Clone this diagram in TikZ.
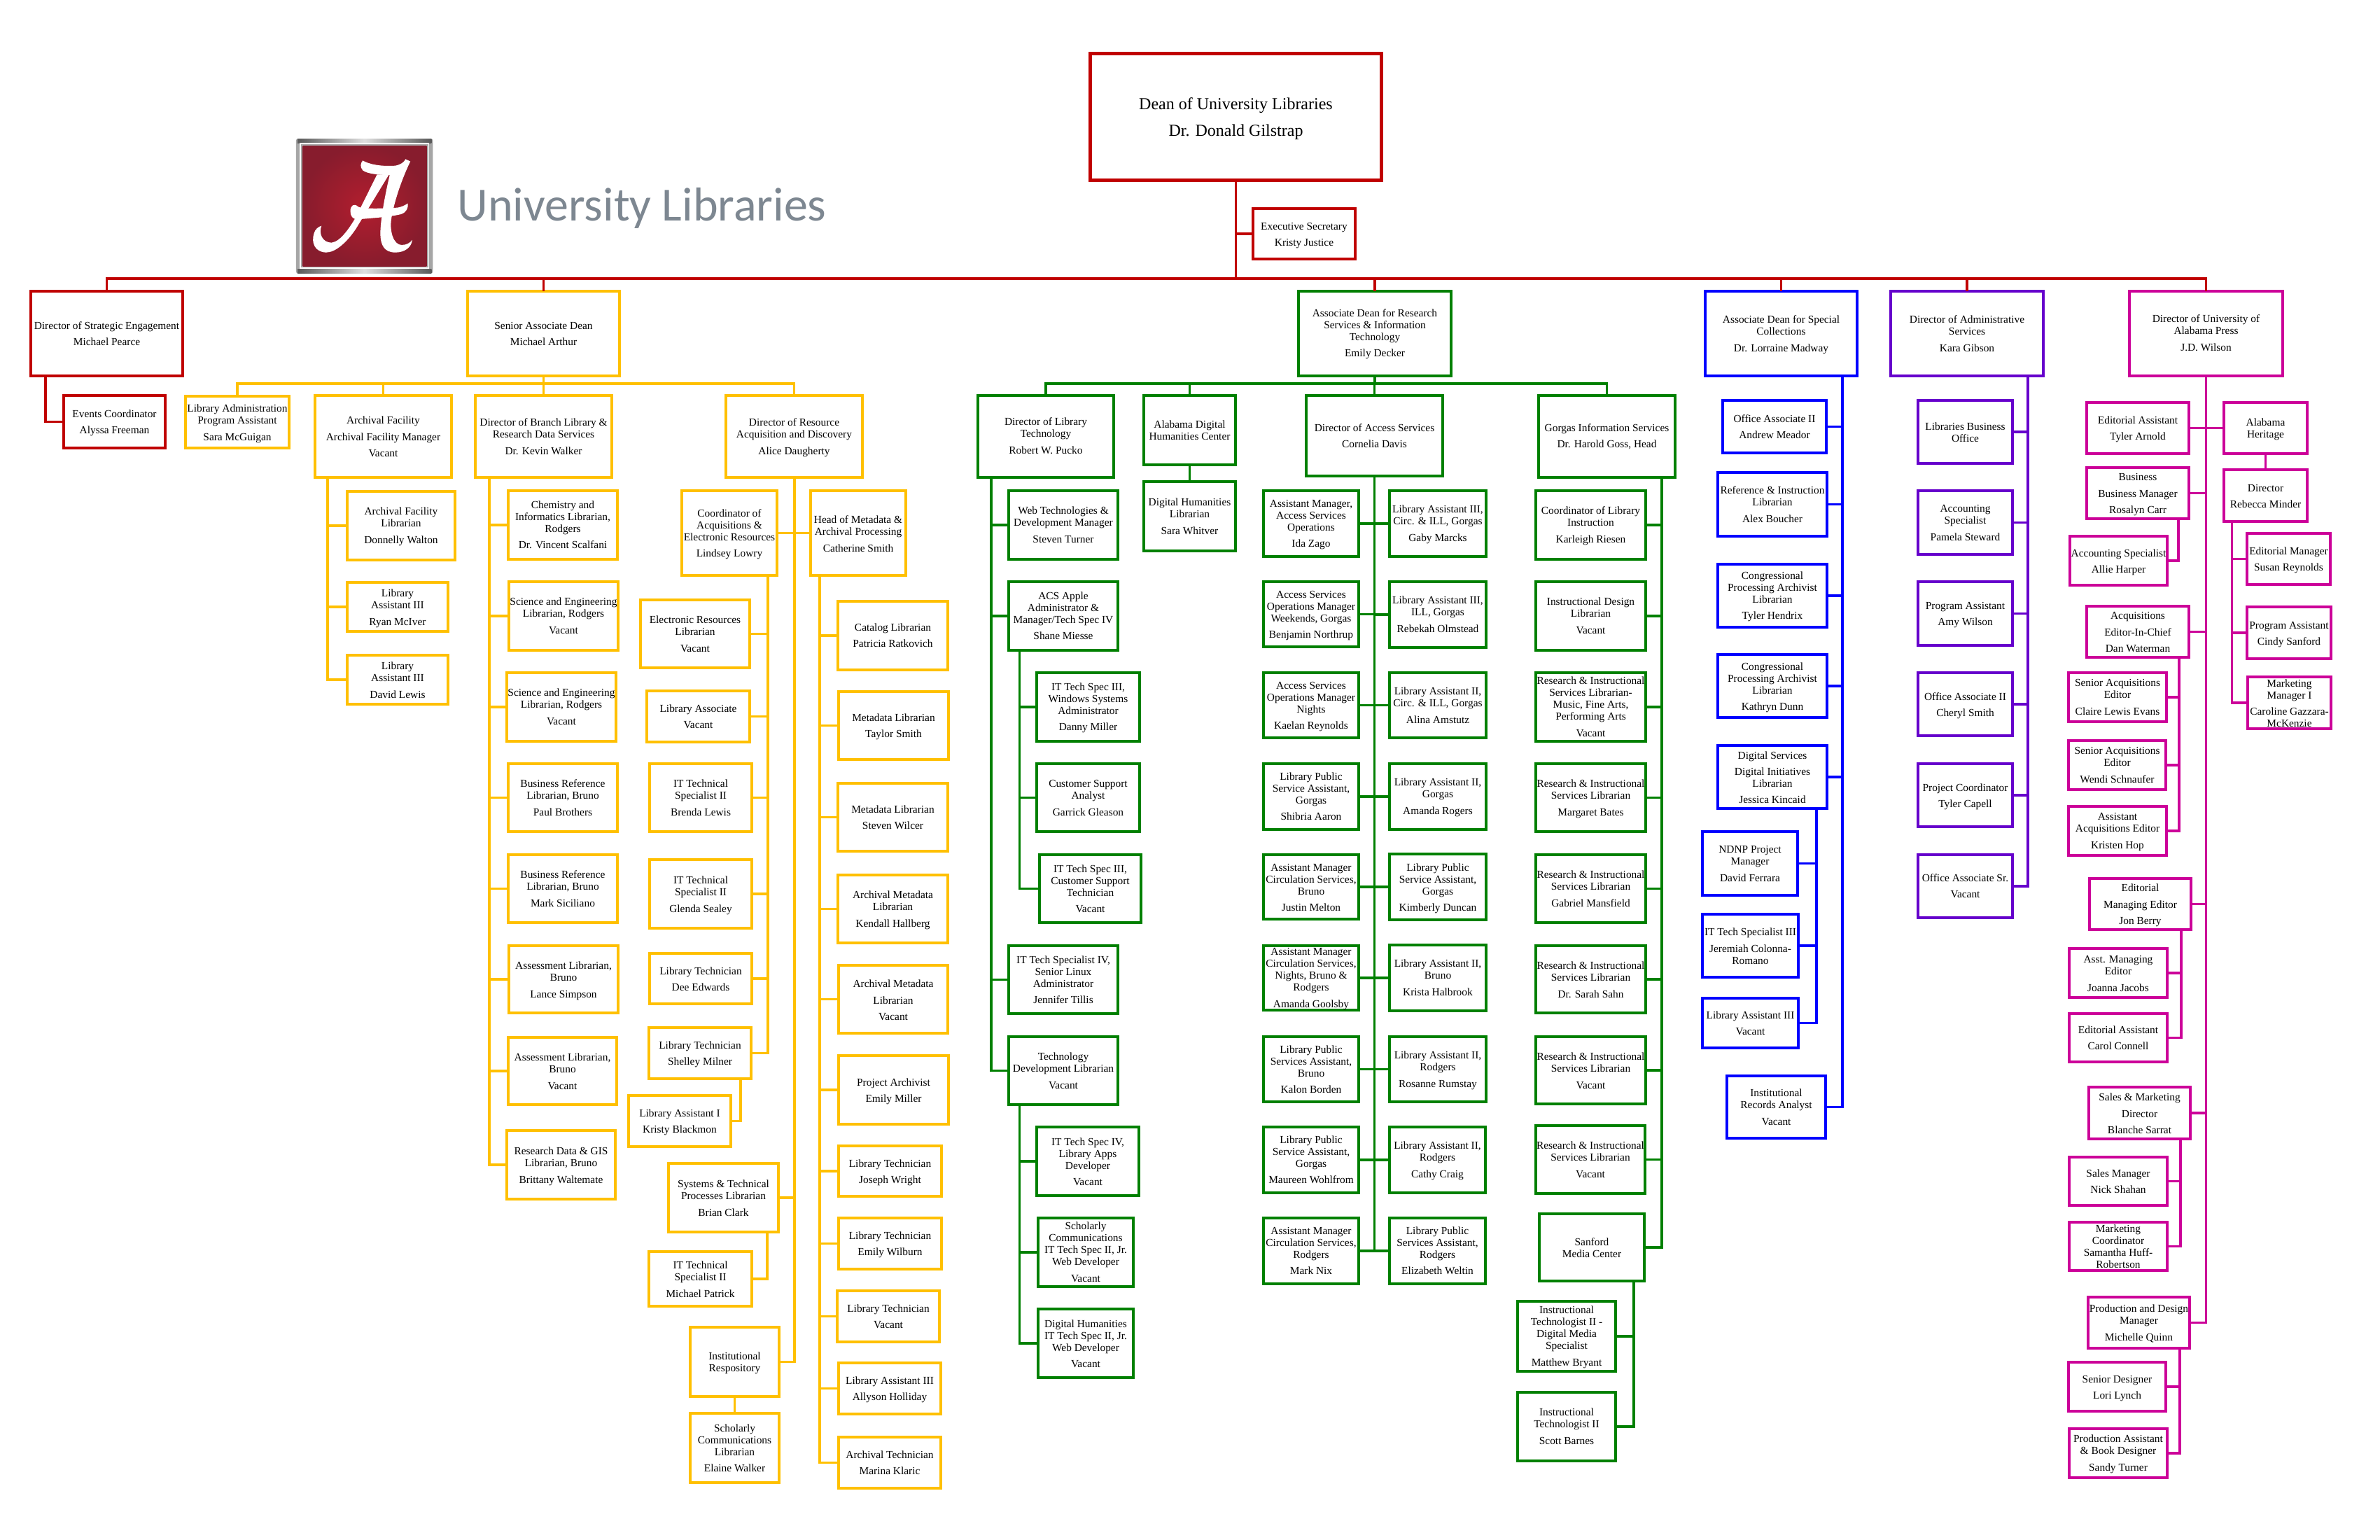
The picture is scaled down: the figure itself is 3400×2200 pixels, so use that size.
\documentclass[tikz,border=0pt]{standalone}
\usepackage{fontspec}
\setmainfont{Liberation Serif}
\newfontfamily\logofont{Carlito}
\usetikzlibrary{calc}
\definecolor{cred}{HTML}{C00000}
\definecolor{cgold}{HTML}{FFC000}
\definecolor{cgreen}{HTML}{008000}
\definecolor{cblue}{HTML}{0000FF}
\definecolor{cpurple}{HTML}{6600CC}
\definecolor{cmag}{HTML}{CC0099}
\tikzset{
  orgbox/.style={draw,rectangle,inner sep=0pt,outer sep=0pt,line width=1.8pt},
  link/.style={line width=1.8pt,line join=miter}
}
\newcommand{\G}{\\[3.2pt]}
% colour, name, outer x1 y1 x2 y2, centre of text y, text
\newcommand{\bx}[8]{%
  \pgfmathsetmacro\bw{(#5-#3-3.6)*0.5}%
  \pgfmathsetmacro\bh{(#6-#4-3.6)*0.5}%
  \pgfmathsetmacro\bcx{(#3+#5)/2}%
  \pgfmathsetmacro\bcy{(#4+#6)/2}%
  \pgfmathsetmacro\bdy{(\bcy-#7)*0.5-3.3}%
  \node[orgbox,#1,minimum width=\bw pt,minimum height=\bh pt,text=black] (#2) at (\bcx,\bcy)
    {\makebox[0pt]{\raisebox{\bdy pt}[0pt][0pt]{\fontsize{7.7}{8.5}\selectfont\begin{tabular}[c]{@{}c@{}}#8\end{tabular}}}};%
}
% colour, parent, y of bus, children
\newcommand{\bus}[4]{%
  \coordinate (tmpbus) at (0,#3);
  \foreach \kid in {#4} {\draw[link,#1] (#2.south) -- (#2.south |- tmpbus) -| (\kid.north);}
}
% colour, parent, x of spine, child anchors
\newcommand{\tree}[4]{%
  \coordinate (tmpsp) at (#3,0);
  \foreach \kid in {#4} {\draw[link,#1] (#2.south -| tmpsp) |- (\kid);}
}
\begin{document}
\begin{tikzpicture}[x=.5pt,y=-.5pt]
\useasboundingbox (0,0) rectangle (3400,2200);
\fill[white] (0,0) rectangle (3400,2200);

% ---------- logo
\begin{scope}[shift={(380,170)},x=.26785pt,y=-.16667pt]
  \fill[rounded corners=1.5pt,gray!70] (80,84) rectangle (445,662);
  \shade[left color=gray!70!black,right color=gray!70!black,middle color=gray!25] (84,84) rectangle (441,102);
  \shade[left color=gray!70!black,right color=gray!70!black,middle color=gray!25] (84,644) rectangle (441,662);
  \draw[white,line width=.9pt] (91,106) rectangle (434,640);
  \definecolor{logoin}{RGB}{178,30,46}
  \definecolor{logoout}{RGB}{135,28,45}
  \shade[inner color=logoin,outer color=logoout] (98,114) rectangle (428,632);
  \fill[white] (258,178) .. controls (270,190) and (300,205) .. (345,200)
     .. controls (360,195) and (368,185) .. (372,172) -- (385,182)
     .. controls (370,230) and (345,330) .. (335,420)
     .. controls (328,480) and (340,540) .. (362,540)
     .. controls (375,540) and (385,530) .. (390,518)
     .. controls (388,550) and (370,572) .. (345,572)
     .. controls (315,572) and (305,540) .. (305,490)
     .. controls (305,440) and (315,340) .. (330,240)
     .. controls (300,240) and (270,235) .. (258,220)
     .. controls (250,205) and (252,190) .. (258,178) -- cycle;
  \fill[white] (328,238) -- (240,470)
     .. controls (215,530) and (185,572) .. (160,572)
     .. controls (130,570) and (120,530) .. (128,490)
     .. controls (130,475) and (140,460) .. (148,458)
     .. controls (140,490) and (150,530) .. (175,530)
     .. controls (200,525) and (225,460) .. (240,420)
     -- (296,238) -- cycle;
  \fill[white] (225,395) .. controls (225,370) and (235,360) .. (245,375)
     .. controls (250,385) and (300,385) .. (350,380)
     .. controls (360,378) and (370,370) .. (378,362)
     .. controls (380,380) and (375,400) .. (360,408)
     .. controls (330,420) and (280,425) .. (245,430)
     .. controls (230,430) and (225,415) .. (225,395) -- cycle;
\end{scope}
\definecolor{logotxt}{RGB}{125,135,145}
\node[anchor=base west,inner sep=0pt,text=logotxt] (logotext) at (653,315) {\logofont\fontsize{34}{34}\selectfont University Libraries};

% ---------- top
\node[orgbox,cred,line width=2.5pt,minimum width=208pt,minimum height=90.5pt,text=black] (dean) at (1765.5,167) {\makebox[0pt]{\raisebox{-3.6pt}[0pt][0pt]{\fontsize{12}{19}\selectfont\begin{tabular}[c]{@{}c@{}}Dean of University Libraries\\Dr. Donald Gilstrap\end{tabular}}}};
\bx{cred}{execsec}{1788}{296}{1938}{372}{334}{Executive Secretary\G Kristy Justice}
\bx{cred}{strategic}{42}{414}{263}{539}{476}{Director of Strategic Engagement\G Michael Pearce}
\bx{cred}{events}{89}{563}{238}{642}{602}{Events Coordinator\G Alyssa Freeman}
\bx{cgold}{senior}{666}{414}{887}{539}{476}{Senior Associate Dean\G Michael Arthur}
\bx{cgreen}{assocdean}{1853}{414}{2075}{539}{475}{Associate Dean for Research\\Services \& Information\\Technology\G Emily Decker}
\bx{cblue}{special}{2434}{414}{2655}{539}{476}{Associate Dean for Special\\Collections\G Dr. Lorraine Madway}
\bx{cpurple}{admin}{2699}{414}{2921}{539}{476}{Director of Administrative\\Services\G Kara Gibson}
\bx{cmag}{press}{3040}{414}{3263}{539}{475}{Director of University of\\Alabama Press\G J.D. Wilson}

\bus{cred}{dean}{398}{strategic,senior,assocdean,special,admin,press}
\draw[link,cred] (execsec.west) -- (execsec.west -| dean.south);
\tree{cred}{strategic}{65}{events.west}

% ---------- gold: second level
\bx{cgold}{libadmin}{263}{564}{415}{642}{603}{Library Administration\\Program Assistant\G Sara McGuigan}
\bx{cgold}{archfac}{448}{563}{647}{684}{623}{Archival Facility\G Archival Facility Manager\G Vacant}
\bx{cgold}{branch}{677}{563}{876}{684}{623}{Director of Branch Library \&\\Research Data Services\G Dr. Kevin Walker}
\bx{cgold}{resource}{1035}{563}{1234}{684}{623}{Director of Resource\\Acquisition and Discovery\G Alice Daugherty}
\bus{cgold}{senior}{548}{libadmin,archfac,branch,resource}

\bx{cgold}{afl}{494}{700}{652}{802}{750}{Archival Facility\\Librarian\G Donnelly Walton}
\bx{cgold}{la3a}{494}{830}{642}{904}{867}{Library\\Assistant III\G Ryan McIver}
\bx{cgold}{la3b}{494}{934}{642}{1008}{971}{Library\\Assistant III\G David Lewis}
\tree{cgold}{archfac}{468}{afl.west,la3a.west,la3b.west}

\bx{cgold}{chem}{724}{699}{884}{801}{749}{Chemistry and\\Informatics Librarian,\\Rodgers\G Dr. Vincent Scalfani}
\bx{cgold}{sci1}{725}{829}{885}{931}{879}{Science and Engineering\\Librarian, Rodgers\G Vacant}
\bx{cgold}{sci2}{722}{959}{882}{1061}{1009}{Science and Engineering\\Librarian, Rodgers\G Vacant}
\bx{cgold}{biz1}{724}{1089}{884}{1190}{1139}{Business Reference\\Librarian, Bruno\G Paul Brothers}
\bx{cgold}{biz2}{724}{1219}{884}{1320}{1269}{Business Reference\\Librarian, Bruno\G Mark Siciliano}
\bx{cgold}{ass1}{725}{1349}{885}{1449}{1399}{Assessment Librarian,\\Bruno\G Lance Simpson}
\bx{cgold}{ass2}{724}{1480}{883}{1580}{1530}{Assessment Librarian,\\Bruno\G Vacant}
\bx{cgold}{rdata}{722}{1613}{881}{1715}{1664}{Research Data \& GIS\\Librarian, Bruno\G Brittany Waltemate}
\tree{cgold}{branch}{699}{chem.west,sci1.west,sci2.west,biz1.west,biz2.west,ass1.west,ass2.west,rdata.west}

\bx{cgold}{coordacq}{972}{699}{1112}{824}{761}{Coordinator of\\Acquisitions \&\\Electronic Resources\G Lindsey Lowry}
\bx{cgold}{headmeta}{1156}{699}{1296}{824}{762}{Head of Metadata \&\\Archival Processing\G Catherine Smith}
\bx{cgold}{systems}{953}{1660}{1114}{1762}{1711}{Systems \& Technical\\Processes Librarian\G Brian Clark}
\bx{cgold}{repo}{984}{1894}{1115}{1997}{1945}{Institutional\\Respository}
\bx{cgold}{schol}{984}{2017}{1115}{2120}{2068}{Scholarly\\Communications\\Librarian\G Elaine Walker}
\tree{cgold}{resource}{1135}{coordacq.east,headmeta.west,systems.east,repo.east}
\draw[link,cgold] (repo.south) -- (schol.north);

\bx{cgold}{erl}{913}{855}{1073}{956}{905}{Electronic Resources\\Librarian\G Vacant}
\bx{cgold}{libassoc}{922}{985}{1073}{1062}{1023}{Library Associate\G Vacant}
\bx{cgold}{itbrenda}{926}{1089}{1076}{1190}{1139}{IT Technical\\Specialist II\G Brenda Lewis}
\bx{cgold}{itglenda}{926}{1226}{1076}{1328}{1277}{IT Technical\\Specialist II\G Glenda Sealey}
\bx{cgold}{dee}{926}{1360}{1076}{1436}{1398}{Library Technician\G Dee Edwards}
\bx{cgold}{shelley}{925}{1466}{1075}{1543}{1504}{Library Technician\G Shelley Milner}
\tree{cgold}{coordacq}{1097}{erl.east,libassoc.east,itbrenda.east,itglenda.east,dee.east,shelley.east}
\bx{cgold}{kristy}{896}{1563}{1046}{1640}{1601}{Library Assistant I\G Kristy Blackmon}
\tree{cgold}{shelley}{1058}{kristy.east}
\bx{cgold}{michael}{925}{1786}{1076}{1868}{1827}{IT Technical\\Specialist II\G Michael Patrick}
\tree{cgold}{systems}{1096}{michael.east}

\bx{cgold}{catalog}{1195}{857}{1356}{959}{907}{Catalog Librarian\G Patricia Ratkovich}
\bx{cgold}{meta1}{1196}{986}{1357}{1087}{1036}{Metadata Librarian\G Taylor Smith}
\bx{cgold}{meta2}{1195}{1117}{1356}{1218}{1167}{Metadata Librarian\G Steven Wilcer}
\bx{cgold}{arch1}{1195}{1248}{1356}{1349}{1298}{Archival Metadata\\Librarian\G Kendall Hallberg}
\bx{cgold}{arch2}{1196}{1377}{1356}{1478}{1428}{Archival Metadata\G Librarian\G Vacant}
\bx{cgold}{project}{1196}{1506}{1357}{1608}{1557}{Project Archivist\G Emily Miller}
\bx{cgold}{joseph}{1196}{1635}{1347}{1711}{1673}{Library Technician\G Joseph Wright}
\bx{cgold}{wilburn}{1196}{1738}{1347}{1815}{1776}{Library Technician\G Emily Wilburn}
\bx{cgold}{techvac}{1194}{1842}{1344}{1919}{1880}{Library Technician\G Vacant}
\bx{cgold}{allyson}{1196}{1945}{1346}{2022}{1983}{Library Assistant III\G Allyson Holliday}
\bx{cgold}{marina}{1196}{2051}{1346}{2128}{2089}{Archival Technician\G Marina Klaric}
\tree{cgold}{headmeta}{1171}{catalog.west,meta1.west,meta2.west,arch1.west,arch2.west,project.west,joseph.west,wilburn.west,techvac.west,allyson.west,marina.west}

% ---------- green
\bx{cgreen}{libtech}{1395}{563}{1593}{684}{622}{Director of Library\\Technology\G Robert W. Pucko}
\bx{cgreen}{adhc}{1632}{563}{1767}{666}{614}{Alabama Digital\\Humanities Center}
\bx{cgreen}{access}{1864}{563}{2063}{682}{622}{Director of Access Services\G Cornelia Davis}
\bx{cgreen}{gorgas}{2196}{563}{2395}{684}{622}{Gorgas Information Services\G Dr. Harold Goss, Head}
\bus{cgreen}{assocdean}{548}{libtech,adhc,access,gorgas}
\bx{cgreen}{dighum}{1632}{686}{1767}{789}{737}{Digital Humanities\\Librarian\G Sara Whitver}
\draw[link,cgreen] (adhc.south) -- (dighum.north);

\bx{cgreen}{web}{1439}{699}{1599}{801}{749}{Web Technologies \&\\Development Manager\G Steven Turner}
\bx{cgreen}{acs}{1439}{829}{1599}{931}{879}{ACS Apple\\Administrator \&\\Manager/Tech Spec IV\G Shane Miesse}
\bx{cgreen}{jennifer}{1439}{1349}{1599}{1450}{1399}{IT Tech Specialist IV,\\Senior Linux\\Administrator\G Jennifer Tillis}
\bx{cgreen}{techdev}{1439}{1479}{1599}{1580}{1529}{Technology\\Development Librarian\G Vacant}
\tree{cgreen}{libtech}{1416}{web.west,acs.west,jennifer.west,techdev.west}
\bx{cgreen}{itwin}{1479}{959}{1630}{1061}{1009}{IT Tech Spec III,\\Windows Systems\\Administrator\G Danny Miller}
\bx{cgreen}{garrick}{1479}{1089}{1630}{1190}{1139}{Customer Support\\Analyst\G Garrick Gleason}
\bx{cgreen}{itcust}{1483}{1219}{1632}{1320}{1269}{IT Tech Spec III,\\Customer Support\\Technician\G Vacant}
\tree{cgreen}{acs}{1456.5}{itwin.west,garrick.west,itcust.west}
\bx{cgreen}{itapps}{1479}{1608}{1629}{1710}{1659}{IT Tech Spec IV,\\Library Apps\\Developer\G Vacant}
\bx{cgreen}{schcomm}{1481}{1738}{1621}{1840}{1788}{Scholarly\\Communications\\IT Tech Spec II, Jr.\\Web Developer\G Vacant}
\bx{cgreen}{dhit}{1481}{1868}{1621}{1970}{1919}{Digital Humanities\\IT Tech Spec II, Jr.\\Web Developer\G Vacant}
\tree{cgreen}{techdev}{1456.5}{itapps.west,schcomm.west,dhit.west}

\bx{cgreen}{a1}{1803}{699}{1943}{797}{747}{Assistant Manager,\\Access Services\\Operations\G Ida Zago}
\bx{cgreen}{b1}{1983}{699}{2125}{797}{747}{Library Assistant III,\\Circ. \& ILL, Gorgas\G Gaby Marcks}
\bx{cgreen}{a2}{1803}{829}{1943}{926}{877}{Access Services\\Operations Manager\\Weekends, Gorgas\G Benjamin Northrup}
\bx{cgreen}{b2}{1983}{829}{2125}{927}{877}{Library Assistant III,\\ILL, Gorgas\G Rebekah Olmstead}
\bx{cgreen}{a3}{1803}{959}{1943}{1056}{1007}{Access Services\\Operations Manager\\Nights\G Kaelan Reynolds}
\bx{cgreen}{b3}{1983}{959}{2125}{1056}{1007}{Library Assistant II,\\Circ. \& ILL, Gorgas\G Alina Amstutz}
\bx{cgreen}{a4}{1803}{1089}{1943}{1187}{1137}{Library Public\\Service Assistant,\\Gorgas\G Shibria Aaron}
\bx{cgreen}{b4}{1983}{1089}{2125}{1187}{1137}{Library Assistant II,\\Gorgas\G Amanda Rogers}
\bx{cgreen}{a5}{1803}{1219}{1943}{1315}{1267}{Assistant Manager\\Circulation Services,\\Bruno\G Justin Melton}
\bx{cgreen}{b5}{1983}{1218}{2125}{1316}{1267}{Library Public\\Service Assistant,\\Gorgas\G Kimberly Duncan}
\bx{cgreen}{a6}{1803}{1349}{1943}{1445}{1396}{Assistant Manager\\Circulation Services,\\Nights, Bruno \&\\Rodgers\G Amanda Goolsby}
\bx{cgreen}{b6}{1983}{1348}{2125}{1446}{1396}{Library Assistant II,\\Bruno\G Krista Halbrook}
\bx{cgreen}{a7}{1803}{1479}{1943}{1576}{1527}{Library Public\\Services Assistant,\\Bruno\G Kalon Borden}
\bx{cgreen}{b7}{1983}{1479}{2125}{1576}{1527}{Library Assistant II,\\Rodgers\G Rosanne Rumstay}
\bx{cgreen}{a8}{1803}{1608}{1943}{1706}{1656}{Library Public\\Service Assistant,\\Gorgas\G Maureen Wohlfrom}
\bx{cgreen}{b8}{1983}{1608}{2124}{1706}{1656}{Library Assistant II,\\Rodgers\G Cathy Craig}
\bx{cgreen}{a9}{1803}{1738}{1943}{1836}{1786}{Assistant Manager\\Circulation Services,\\Rodgers\G Mark Nix}
\bx{cgreen}{b9}{1983}{1738}{2124}{1836}{1786}{Library Public\\Services Assistant,\\Rodgers\G Elizabeth Weltin}
\tree{cgreen}{access}{1963.5}{a1.east,b1.west,a2.east,b2.west,a3.east,b3.west,a4.east,b4.west,a5.east,b5.west,a6.east,b6.west,a7.east,b7.west,a8.east,b8.west,a9.east,b9.west}

\bx{cgreen}{g1}{2192}{699}{2353}{801}{749}{Coordinator of Library\\Instruction\G Karleigh Riesen}
\bx{cgreen}{g2}{2192}{829}{2353}{931}{879}{Instructional Design\\Librarian\G Vacant}
\bx{cgreen}{g3}{2192}{959}{2353}{1061}{1009}{Research \& Instructional\\Services Librarian-\\Music, Fine Arts,\\Performing Arts\G Vacant}
\bx{cgreen}{g4}{2192}{1089}{2353}{1190}{1139}{Research \& Instructional\\Services Librarian\G Margaret Bates}
\bx{cgreen}{g5}{2192}{1219}{2353}{1320}{1269}{Research \& Instructional\\Services Librarian\G Gabriel Mansfield}
\bx{cgreen}{g6}{2192}{1349}{2353}{1449}{1399}{Research \& Instructional\\Services Librarian\G Dr. Sarah Sahn}
\bx{cgreen}{g7}{2192}{1479}{2353}{1579}{1529}{Research \& Instructional\\Services Librarian\G Vacant}
\bx{cgreen}{g8}{2192}{1606}{2352}{1707}{1656}{Research \& Instructional\\Services Librarian\G Vacant}
\bx{cgreen}{g9}{2197}{1732}{2351}{1832}{1782}{Sanford\\Media Center}
\tree{cgreen}{gorgas}{2374}{g1.east,g2.east,g3.east,g4.east,g5.east,g6.east,g7.east,g8.east,g9.east}
\bx{cgreen}{matthew}{2166}{1857}{2310}{1961}{1908}{Instructional\\Technologist II -\\Digital Media\\Specialist\G Matthew Bryant}
\bx{cgreen}{scott}{2166}{1987}{2310}{2089}{2037}{Instructional\\Technologist II\G Scott Barnes}
\tree{cgreen}{g9}{2334}{matthew.east,scott.east}

% ---------- blue
\bx{cblue}{b01}{2459}{570}{2611}{649}{609}{Office Associate II\G Andrew Meador}
\bx{cblue}{b02}{2452}{673}{2612}{768}{720}{Reference \& Instruction\\Librarian\G Alex Boucher}
\bx{cblue}{b03}{2452}{804}{2612}{898}{850}{Congressional\\Processing Archivist\\Librarian\G Tyler Hendrix}
\bx{cblue}{b04}{2452}{933}{2612}{1027}{980}{Congressional\\Processing Archivist\\Librarian\G Kathryn Dunn}
\bx{cblue}{b05}{2452}{1063}{2612}{1157}{1110}{Digital Services\G Digital Initiatives\\Librarian\G Jessica Kincaid}
\bx{cblue}{b09}{2465}{1535}{2610}{1628}{1581}{Institutional\\Records Analyst\G Vacant}
\tree{cblue}{special}{2632}{b01.east,b02.east,b03.east,b04.east,b05.east,b09.east}
\bx{cblue}{b06}{2430}{1186}{2570}{1281}{1233}{NDNP Project\\Manager\G David Ferrara}
\bx{cblue}{b07}{2430}{1304}{2571}{1398}{1351}{IT Tech Specialist III\G Jeremiah Colonna-\\Romano}
\bx{cblue}{b08}{2430}{1424}{2571}{1499}{1461}{Library Assistant III\G Vacant}
\tree{cblue}{b05}{2595}{b06.east,b07.east,b08.east}

% ---------- purple
\bx{cpurple}{p1}{2738}{570}{2877}{664}{617}{Libraries Business\\Office}
\bx{cpurple}{p2}{2738}{699}{2877}{794}{746}{Accounting\\Specialist\G Pamela Steward}
\bx{cpurple}{p3}{2738}{829}{2877}{924}{876}{Program Assistant\G Amy Wilson}
\bx{cpurple}{p4}{2738}{959}{2877}{1053}{1006}{Office Associate II\G Cheryl Smith}
\bx{cpurple}{p5}{2738}{1089}{2877}{1183}{1136}{Project Coordinator\G Tyler Capell}
\bx{cpurple}{p6}{2738}{1219}{2877}{1313}{1265}{Office Associate Sr.\G Vacant}
\tree{cpurple}{admin}{2897}{p1.east,p2.east,p3.east,p4.east,p5.east,p6.east}

% ---------- magenta
\bx{cmag}{m1}{2979}{573}{3129}{650}{611}{Editorial Assistant\G Tyler Arnold}
\bx{cmag}{m2}{3175}{573}{3298}{650}{611}{Alabama\\Heritage}
\bx{cmag}{m3}{2979}{666}{3129}{743}{704}{Business\G Business Manager\G Rosalyn Carr}
\bx{cmag}{m8}{2979}{864}{3129}{941}{902}{Acquisitions\G Editor-In-Chief\G Dan Waterman}
\bx{cmag}{m12}{2983}{1253}{3132}{1330}{1291}{Editorial\G Managing Editor\G Jon Berry}
\bx{cmag}{m15}{2982}{1551}{3131}{1629}{1590}{Sales \& Marketing\G Director\G Blanche Sarrat}
\bx{cmag}{m18}{2981}{1851}{3130}{1928}{1889}{Production and Design\\Manager\G Michelle Quinn}
\tree{cmag}{press}{3151.5}{m1.east,m2.west,m3.east,m8.east,m12.east,m15.east,m18.east}
\bx{cmag}{m4}{2955}{764}{3098}{838}{801}{Accounting Specialist\G Allie Harper}
\tree{cmag}{m3}{3112}{m4.east}
\bx{cmag}{m5}{3175}{669}{3298}{747}{708}{Director\G Rebecca Minder}
\draw[link,cmag] (m2.south) -- (m5.north);
\bx{cmag}{m6a}{3208}{760}{3331}{837}{798}{Editorial Manager\G Susan Reynolds}
\bx{cmag}{m6b}{3208}{865}{3332}{943}{904}{Program Assistant\G Cindy Sanford}
\bx{cmag}{m6c}{3209}{965}{3332}{1043}{1004}{Marketing\\Manager I\G Caroline Gazzara-\\McKenzie}
\tree{cmag}{m5}{3188.5}{m6a.west,m6b.west,m6c.west}
\bx{cmag}{m9}{2953}{959}{3097}{1033}{995}{Senior Acquisitions\\Editor\G Claire Lewis Evans}
\bx{cmag}{m10}{2953}{1056}{3096}{1130}{1092}{Senior Acquisitions\\Editor\G Wendi Schnaufer}
\bx{cmag}{m11}{2953}{1150}{3097}{1224}{1186}{Assistant\\Acquisitions Editor\G Kristen Hop}
\tree{cmag}{m8}{3113}{m9.east,m10.east,m11.east}
\bx{cmag}{m13}{2954}{1353}{3098}{1427}{1390}{Asst. Managing\\Editor\G Joanna Jacobs}
\bx{cmag}{m14}{2954}{1446}{3098}{1519}{1482}{Editorial Assistant\G Carol Connell}
\tree{cmag}{m12}{3116}{m13.east,m14.east}
\bx{cmag}{m16}{2954}{1651}{3098}{1724}{1687}{Sales Manager\G Nick Shahan}
\bx{cmag}{m17}{2954}{1744}{3098}{1817}{1780}{Marketing\\Coordinator\\Samantha Huff-\\Robertson}
\tree{cmag}{m15}{3115}{m16.east,m17.east}
\bx{cmag}{m19}{2953}{1944}{3096}{2018}{1981}{Senior Designer\G Lori Lynch}
\bx{cmag}{m20}{2954}{2039}{3098}{2113}{2075}{Production Assistant\\\& Book Designer\G Sandy Turner}
\tree{cmag}{m18}{3114}{m19.east,m20.east}
\end{tikzpicture}
\end{document}
